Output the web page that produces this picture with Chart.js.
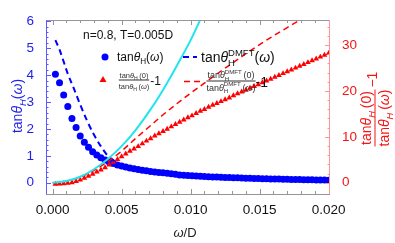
<!DOCTYPE html>
<html>
<head>
<meta charset="utf-8">
<script src="https://cdn.jsdelivr.net/npm/chart.js@4/dist/chart.umd.min.js"></script>
<style>
  body { margin: 0; background: #fff; }
  canvas { display: block; }
</style>
</head>
<body>
<canvas id="chart" width="395" height="243"></canvas>
<script>
// data
const omega = [0.0002,0.0005,0.0008,0.0011,0.0014,0.0017,0.0020,0.0023,0.0026,0.0029,
  0.0032,0.0035,0.0038,0.0041,0.0044,0.0047,0.0050,0.0053,0.0056,0.0059,
  0.0062,0.0065,0.0068,0.0071,0.0074,0.0077,0.0080,0.0083,0.0086,0.0089,
  0.0092,0.0095,0.0098,0.0101,0.0104,0.0107,0.0110,0.0113,0.0116,0.0119,
  0.0122,0.0125,0.0128,0.0131,0.0134,0.0137,0.0140,0.0143,0.0146,0.0149,
  0.0152,0.0155,0.0158,0.0161,0.0164,0.0167,0.0170,0.0173,0.0176,0.0179,
  0.0182,0.0185,0.0188,0.0191,0.0194,0.0197,0.0200];
const tanH = [4.03,3.72,3.26,2.83,2.39,2.05,1.74,1.50,1.32,1.15,
  1.03,0.93,0.84,0.77,0.71,0.66,0.62,0.58,0.55,0.52,
  0.49,0.46,0.44,0.42,0.40,0.38,0.37,0.35,0.33,0.31,
  0.29,0.28,0.27,0.26,0.25,0.24,0.23,0.22,0.215,0.21,
  0.20,0.195,0.19,0.185,0.18,0.175,0.17,0.165,0.16,0.155,
  0.15,0.146,0.142,0.138,0.134,0.13,0.126,0.122,0.118,0.115,
  0.112,0.109,0.106,0.103,0.10,0.097,0.094];
const ratioH = [-0.3,-0.25,-0.2,-0.1,0.05,0.3,0.6,1.0,1.45,1.9,
  2.35,2.8,3.3,3.9,4.5,5.1,5.7,6.3,6.9,7.4,
  7.9,8.5,9.1,9.6,10.2,10.7,11.2,11.7,12.2,12.7,
  13.2,13.7,14.2,14.6,15.1,15.6,16.0,16.5,16.9,17.3,
  17.7,18.1,18.5,19.0,19.4,19.8,20.2,20.6,21.0,21.4,
  21.8,22.2,22.6,23.0,23.4,23.8,24.2,24.6,25.0,25.4,
  25.8,26.2,26.6,27.0,27.4,27.8,28.2];

const omegaDmft = [0.0002,0.0005,0.0008,0.0011,0.0015,0.0020,0.0025,0.0030,0.0035,0.0040,
  0.0045,0.0050,0.0060,0.0070,0.0080,0.0100,0.0120,0.0140,0.0160,0.0180,0.0200];
const tanDmft = [5.3,4.95,4.5,4.05,3.55,2.9,2.3,1.78,1.35,1.0,
  0.8,0.66,0.52,0.44,0.38,0.29,0.23,0.19,0.16,0.13,0.11];

const omegaDmftRatio = [0,0.0005,0.001,0.0015,0.002,0.0025,0.003,0.0035,0.004,0.005,0.006,
  0.007,0.008,0.009,0.010,0.011,0.012,0.013,0.014,0.015,0.016,0.017,0.018,0.019];
const ratioDmft = [0,0.05,0.3,0.7,1.2,1.9,2.7,3.6,4.6,6.9,9.6,
  12.2,14.8,17.2,19.5,21.7,23.9,26.0,28.1,30.1,32.0,33.8,35.6,37.4];

const omegaFit = [0,0.001,0.002,0.003,0.004,0.005,0.006,0.007,0.008,0.009,0.010,0.011];
const fitVals = [0,0.06,0.22,0.5,0.88,1.36,1.95,2.65,3.45,4.35,5.3,6.4];

const xTicks = [0, 0.005, 0.01, 0.015, 0.02];
const leftTicks = [0, 1, 2, 3, 4, 5, 6];
const rightTicks = [0, 10, 20, 30];

const BLUE = "#0000ff";
const RED = "#ff0000";
const BLUE_TXT = "rgb(30,30,235)";
const RED_TXT = "rgb(245,20,20)";
const FAM = "'Liberation Sans', Arial, sans-serif";
const fnt = (s, it) => (it ? "italic " : "") + s + "px " + FAM;

const pts = (xs, ys) => xs.map((x, i) => ({ x: x, y: ys[i] }));

// rich text helpers (subscripts / superscripts)
function richWidth(ctx, parts) {
    let w = 0;
    parts.forEach(p => {
        ctx.font = p.f;
        let a = ctx.measureText(p.t).width, b = 0;
        if (p.sup) { ctx.font = p.sup.f; b = ctx.measureText(p.sup.t).width; }
        w += Math.max(a, b);
    });
    return w;
}
function drawRich(ctx, parts, x, y) {
    let cx = x;
    parts.forEach(p => {
        ctx.font = p.f;
        let a = ctx.measureText(p.t).width, b = 0;
        ctx.fillText(p.t, cx, y + (p.dy || 0));
        if (p.sup) {
            ctx.font = p.sup.f;
            b = ctx.measureText(p.sup.t).width;
            ctx.fillText(p.sup.t, cx, y + p.sup.dy);
        }
        cx += Math.max(a, b);
    });
    return cx - x;
}
function drawFrac(ctx, num, den, cx, ly, up, down) {
    const wn = richWidth(ctx, num), wd = richWidth(ctx, den);
    const w = Math.max(wn, wd);
    drawRich(ctx, num, cx - wn / 2, ly - up);
    drawRich(ctx, den, cx - wd / 2, ly + down);
    ctx.fillRect(cx - w / 2, ly - 0.5, w, 1);
    return w;
}
// tanθ_H(arg)
function tanParts(s, arg, opts) {
    opts = opts || {};
    const sub = { t: "H", f: fnt(s * 0.68, opts.itH), dy: s * 0.28 };
    if (opts.dmft) sub.sup = { t: "DMFT", f: fnt(s * 0.68), dy: -s * 0.45 };
    const p = [{ t: "tan", f: fnt(s) }, { t: "θ", f: fnt(s, true) }, sub];
    if (opts.space) p.push({ t: " ", f: fnt(s * 0.7) });
    p.push({ t: "(", f: fnt(s) });
    p.push({ t: arg, f: fnt(s, arg === "ω") });
    p.push({ t: ")", f: fnt(s) });
    return p;
}

const framePlugin = {
    id: "frame",
    afterDatasetsDraw(chart) {
        const ctx = chart.ctx, a = chart.chartArea;
        const x = chart.scales.x, y = chart.scales.y, y2 = chart.scales.y2;
        ctx.save();
        ctx.lineWidth = 1;
        // bottom / top ticks
        ctx.strokeStyle = "rgb(150,150,150)";
        for (let k = 0; k <= 20; k++) {
            const v = k * 0.001, px = Math.round(x.getPixelForValue(v)) + 0.5;
            const len = k % 5 === 0 ? 5 : 3;
            ctx.beginPath();
            ctx.moveTo(px, a.bottom); ctx.lineTo(px, a.bottom - len);
            ctx.moveTo(px, a.top); ctx.lineTo(px, a.top + len);
            ctx.stroke();
        }
        ctx.beginPath();
        ctx.moveTo(a.left, a.top + 0.5); ctx.lineTo(a.right, a.top + 0.5);
        ctx.moveTo(a.left, a.bottom + 0.5); ctx.lineTo(a.right, a.bottom + 0.5);
        ctx.stroke();
        // left axis
        ctx.strokeStyle = "rgb(90,90,255)";
        for (let k = 0; k <= 30; k++) {
            const v = k * 0.2, py = Math.round(y.getPixelForValue(v)) + 0.5;
            const len = k % 5 === 0 ? 5 : 2.5;
            ctx.beginPath(); ctx.moveTo(a.left, py); ctx.lineTo(a.left + len, py); ctx.stroke();
        }
        ctx.beginPath(); ctx.moveTo(a.left + 0.5, a.top); ctx.lineTo(a.left + 0.5, a.bottom); ctx.stroke();
        // right axis
        ctx.strokeStyle = "rgb(255,150,150)";
        for (let k = 0; k <= 17; k++) {
            const v = k * 2, py = Math.round(y2.getPixelForValue(v)) + 0.5;
            const len = k % 5 === 0 ? 5 : 2.5;
            ctx.beginPath(); ctx.moveTo(a.right, py); ctx.lineTo(a.right - len, py); ctx.stroke();
        }
        ctx.beginPath(); ctx.moveTo(a.right - 0.5, a.top); ctx.lineTo(a.right - 0.5, a.bottom); ctx.stroke();
        ctx.restore();
    },
    afterDraw(chart) {
        const ctx = chart.ctx;
        ctx.save();
        ctx.textAlign = "left";
        ctx.textBaseline = "alphabetic";

        // annotation
        ctx.fillStyle = "#111";
        ctx.font = fnt(12);
        ctx.fillText("n=0.8, T=0.005D", 83, 39);

        // legend column 1
        ctx.fillStyle = BLUE;
        ctx.beginPath(); ctx.arc(105, 57, 3.5, 0, Math.PI * 2); ctx.fill();
        ctx.fillStyle = "#111";
        drawRich(ctx, tanParts(12, "ω"), 117, 61);

        ctx.fillStyle = RED;
        ctx.beginPath();
        ctx.moveTo(103, 76); ctx.lineTo(106.5, 82); ctx.lineTo(99.5, 82); ctx.closePath(); ctx.fill();
        ctx.fillStyle = "#333";
        const w1 = drawFrac(ctx, tanParts(7.5, "0", { space: true }), tanParts(7.5, "ω", { space: true }), 134, 80, 2.5, 8.5);
        ctx.fillStyle = "#111";
        ctx.font = fnt(12);
        ctx.fillText("-1", 134 + w1 / 2 + 1, 85);

        // legend column 2
        ctx.strokeStyle = BLUE;
        ctx.lineWidth = 2;
        ctx.setLineDash([6, 4]);
        ctx.beginPath(); ctx.moveTo(183, 57); ctx.lineTo(197, 57); ctx.stroke();
        ctx.strokeStyle = RED;
        ctx.lineWidth = 1.5;
        ctx.beginPath(); ctx.moveTo(184, 81.5); ctx.lineTo(204, 81.5); ctx.stroke();
        ctx.setLineDash([]);
        ctx.fillStyle = "#111";
        drawRich(ctx, tanParts(14, "ω", { dmft: true }), 201, 62);
        ctx.fillStyle = "#333";
        const w2 = drawFrac(ctx, tanParts(9, "0", { dmft: true, space: true }), tanParts(9, "ω", { dmft: true, space: true }), 231, 81, 3, 9.5);
        ctx.fillStyle = "#111";
        ctx.font = fnt(14);
        ctx.fillText("-1", 231 + w2 / 2, 87);

        // left axis title
        ctx.fillStyle = BLUE_TXT;
        ctx.save();
        ctx.translate(22, 106);
        ctx.rotate(-Math.PI / 2);
        const lp = tanParts(14, "ω", { itH: true });
        drawRich(ctx, lp, -richWidth(ctx, lp) / 2, 0);
        ctx.restore();

        // right axis title
        ctx.fillStyle = RED_TXT;
        ctx.save();
        ctx.translate(375, 118);
        ctx.rotate(-Math.PI / 2);
        const wr = drawFrac(ctx, tanParts(14, "0", { itH: true, space: true }), tanParts(14, "ω", { itH: true, space: true }), 0, 0, 4, 14);
        ctx.font = fnt(14);
        ctx.textBaseline = "middle";
        ctx.fillText("−1", wr / 2 + 2, -2);
        ctx.restore();

        // bottom axis title
        ctx.fillStyle = "#222";
        const bp = [{ t: "ω", f: fnt(13, true) }, { t: "/D", f: fnt(13) }];
        drawRich(ctx, bp, 185 - richWidth(ctx, bp) / 2, 237);
        ctx.restore();
    }
};

new Chart(document.getElementById("chart"), {
    type: "scatter",
    data: {
        datasets: [
            {
                label: "fit",
                data: pts(omegaFit, fitVals),
                yAxisID: "y",
                showLine: true,
                borderColor: "#22e4ec",
                borderWidth: 2,
                pointRadius: 0,
                cubicInterpolationMode: "monotone",
                order: 0
            },
            {
                label: "ratio DMFT",
                data: pts(omegaDmftRatio, ratioDmft),
                yAxisID: "y2",
                showLine: true,
                borderColor: RED,
                borderWidth: 1.5,
                borderDash: [6, 4],
                pointRadius: 0,
                cubicInterpolationMode: "monotone",
                order: 1
            },
            {
                label: "tan DMFT",
                data: pts(omegaDmft, tanDmft),
                yAxisID: "y",
                showLine: true,
                borderColor: BLUE,
                borderWidth: 2,
                borderDash: [6, 4],
                pointRadius: 0,
                cubicInterpolationMode: "monotone",
                order: 2
            },
            {
                label: "ratio",
                data: pts(omega, ratioH),
                yAxisID: "y2",
                pointStyle: "triangle",
                pointRadius: 3.3,
                backgroundColor: RED,
                borderWidth: 0,
                order: 3
            },
            {
                label: "tan",
                data: pts(omega, tanH),
                yAxisID: "y",
                pointStyle: "circle",
                pointRadius: 3.5,
                backgroundColor: BLUE,
                borderWidth: 0,
                order: 4
            }
        ]
    },
    options: {
        responsive: false,
        animation: false,
        layout: { padding: { top: 20, left: 0, right: 0, bottom: 0 } },
        plugins: { legend: { display: false }, tooltip: { enabled: false } },
        scales: {
            x: {
                type: "linear",
                min: -0.00048,
                max: 0.0201,
                grid: { display: false },
                border: { display: false },
                afterBuildTicks: s => { s.ticks = xTicks.map(v => ({ value: v })); },
                afterFit: s => { s.height = 49; },
                ticks: {
                    color: "#111",
                    font: { family: FAM, size: 13.5 },
                    padding: 0,
                    maxRotation: 0,
                    callback: v => v.toFixed(3)
                }
            },
            y: {
                position: "left",
                min: -0.42,
                max: 6.05,
                grid: { display: false },
                border: { display: false },
                afterBuildTicks: s => { s.ticks = leftTicks.map(v => ({ value: v })); },
                afterFit: s => { s.width = 46; },
                ticks: { color: BLUE_TXT, font: { family: FAM, size: 13.5 }, padding: 4 }
            },
            y2: {
                position: "right",
                min: -2.46,
                max: 35.45,
                grid: { display: false },
                border: { display: false },
                afterBuildTicks: s => { s.ticks = rightTicks.map(v => ({ value: v })); },
                afterFit: s => { s.width = 65; },
                ticks: { color: RED_TXT, font: { family: FAM, size: 13.5 }, padding: 4 }
            }
        }
    },
    plugins: [framePlugin]
});
</script>
</body>
</html>
